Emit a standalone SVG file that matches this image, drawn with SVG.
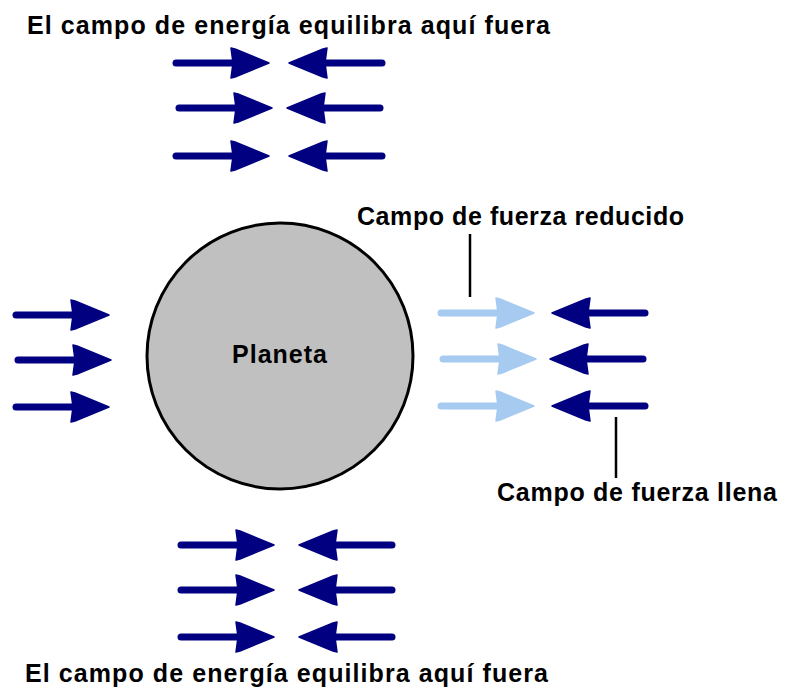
<svg xmlns="http://www.w3.org/2000/svg" xmlns:xlink="http://www.w3.org/1999/xlink" width="785" height="691" viewBox="0 0 785 691">
<style>
.t{font-family:"Liberation Sans",Arial,sans-serif;font-weight:bold;font-size:25px;fill:#000;}
.dark{fill:#000080;stroke:#000080;}
.light{fill:#a6caf0;stroke:#a6caf0;}
.leader{stroke:#000;stroke-width:2.5;fill:none;}
</style>
<defs>
<g id="arr">
<line x1="3" y1="0" x2="62" y2="0" stroke-width="7" stroke-linecap="round"/>
<polygon points="58,-15 62,-14 96,0 62,14 58,15 60,0" stroke-width="1.5" stroke-linejoin="round"/>
</g>
</defs>
<rect width="785" height="691" fill="#fff"/>
<g id="title-top"><text class="t" x="27" y="34" textLength="523" lengthAdjust="spacing">El campo de energía equilibra aquí fuera</text></g>
<g id="title-bottom"><text class="t" x="25" y="682" textLength="523" lengthAdjust="spacing">El campo de energía equilibra aquí fuera</text></g>
<g id="arrows-top" class="dark">
<use xlink:href="#arr" transform="translate(173,63)"/>
<use xlink:href="#arr" transform="translate(385,63) scale(-1,1)"/>
<use xlink:href="#arr" transform="translate(176,108)"/>
<use xlink:href="#arr" transform="translate(383,108) scale(-1,1)"/>
<use xlink:href="#arr" transform="translate(173,156)"/>
<use xlink:href="#arr" transform="translate(385,156) scale(-1,1)"/>
</g>
<g id="arrows-bottom" class="dark">
<use xlink:href="#arr" transform="translate(178,545)"/>
<use xlink:href="#arr" transform="translate(395,545) scale(-1,1)"/>
<use xlink:href="#arr" transform="translate(178,590)"/>
<use xlink:href="#arr" transform="translate(395,590) scale(-1,1)"/>
<use xlink:href="#arr" transform="translate(178,637)"/>
<use xlink:href="#arr" transform="translate(395,637) scale(-1,1)"/>
</g>
<g id="arrows-left" class="dark">
<use xlink:href="#arr" transform="translate(13,315)"/>
<use xlink:href="#arr" transform="translate(15,360)"/>
<use xlink:href="#arr" transform="translate(13,407)"/>
</g>
<g id="arrows-reduced" class="light">
<use xlink:href="#arr" transform="translate(438,313)"/>
<use xlink:href="#arr" transform="translate(440,359)"/>
<use xlink:href="#arr" transform="translate(438,406)"/>
</g>
<g id="arrows-full" class="dark">
<use xlink:href="#arr" transform="translate(648,313) scale(-1,1)"/>
<use xlink:href="#arr" transform="translate(646,359) scale(-1,1)"/>
<use xlink:href="#arr" transform="translate(648,406) scale(-1,1)"/>
</g>
<g id="planeta">
<circle cx="280" cy="356" r="133" fill="#c0c0c0" stroke="#000" stroke-width="3"/>
<text class="t" x="232" y="363" textLength="95" lengthAdjust="spacing">Planeta</text>
</g>
<g id="label-reduced"><text class="t" x="357" y="225" textLength="327" lengthAdjust="spacing">Campo de fuerza reducido</text></g>
<g id="label-full"><text class="t" x="497" y="501" textLength="280" lengthAdjust="spacing">Campo de fuerza llena</text></g>
<g id="connectors">
<line class="leader" x1="470" y1="234" x2="470" y2="297"/>
<line class="leader" x1="616" y1="417" x2="616" y2="478"/>
</g>
</svg>
